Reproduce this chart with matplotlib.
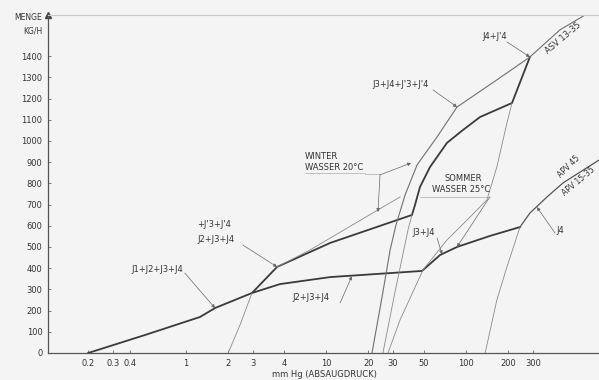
import matplotlib
matplotlib.use('Agg')
import matplotlib.pyplot as plt

# ---- data: x = suction pressure (mm Hg abs), y = throughput (kg/h) ----
winter_x = [0.2, 0.51, 1.26, 1.61, 2.96, 4.47, 10.7, 41.1, 43.2, 46.9, 55.3, 73.1, 95.2, 126, 213, 286]
winter_y = [0, 85, 170, 212, 283, 406, 519, 651, 698, 783, 877, 991, 1052, 1113, 1179, 1396]
summer_x = [2.96, 4.69, 10.7, 48.5, 65.2, 86.2, 148, 243]
summer_y = [283, 325, 358, 387, 462, 500, 552, 594]
apv_x = [243, 286, 379, 493, 891]
apv_y = [594, 660, 736, 802, 910]
asv_x = [21.3, 25.5, 28.7, 31.6, 36.7, 44.7, 62.1, 86.2, 166, 286, 469, 769]
asv_y = [0, 288, 486, 604, 745, 887, 1019, 1160, 1288, 1396, 1524, 1608]
j3j4_x = [25.5, 31.1, 38.5, 41.1]
j3j4_y = [0, 288, 580, 651]
summer_water_x = [27.7, 33.8, 49.3, 73.1, 101.6, 141, 166, 196, 213]
summer_water_y = [0, 156, 392, 533, 627, 722, 877, 1085, 1179]
j4_x = [137, 166, 196, 243]
j4_y = [0, 250, 406, 594]
j2_x = [2.0, 2.43, 2.96]
j2_y = [0, 132, 283]
winter_water_x = [4.47, 5.1, 7.69, 17.5, 33.8]
winter_water_y = [406, 425, 486, 625, 736]

x_tick_values = [0.2, 0.3, 0.4, 1, 2, 3, 5, 10, 20, 30, 50, 100, 200, 300]
x_tick_labels = ["0.2", "0.3", "0.4", "1", "2", "3", "4", "10", "20", "30", "50", "100", "200", "300"]
y_tick_values = list(range(0, 1500, 100))
y_tick_labels = [str(v) for v in y_tick_values]

# label text, anchor x, anchor y, rotation, ha, fontsize
labels = [
    ("J1+J2+J3+J4", 0.62, 392, 0, "center", 6),
    ("+J'3+J'4", 1.2, 604, 0, "left", 6),
    ("J2+J3+J4", 1.2, 533, 0, "left", 6),
    ("J2+J3+J4", 5.72, 264, 0, "left", 6),
    ("WINTER", 7.08, 925, 0, "left", 6),
    ("WASSER 20°C", 7.08, 873, 0, "left", 6),
    ("SOMMER", 95.2, 821, 0, "center", 6),
    ("WASSER 25°C", 93, 769, 0, "center", 6),
    ("J3+J4", 41.1, 566, 0, "left", 6),
    ("J3+J4+J'3+J'4", 33.8, 1264, 0, "center", 6),
    ("J4+J'4", 161, 1491, 0, "center", 6),
    ("ASV 13-35", 493, 1486, 40, "center", 6),
    ("APV 45", 540, 880, 45, "center", 5.5),
    ("APV 15-35", 640, 808, 40, "center", 5.5),
    ("J4", 469, 580, 0, "center", 6),
]
# leader lines: (from x, from y, to x, to y)
leaders = [
    (0.98, 377, 1.61, 212),
    (2.55, 509, 4.47, 406),
    (12.6, 236, 15.3, 362),
    (24.3, 840, 40.5, 896),
    (24.3, 840, 23.5, 665),
    (148, 736, 86.2, 500),
    (62.1, 542, 67.4, 466),
    (58.1, 1241, 86.2, 1160),
    (196, 1467, 286, 1396),
    (432, 566, 321, 688),
]
underlines = [
    (7.08, 19.0, 849),
    (19.0, 24.3, 845),
    (46.9, 148, 736),
]

fig = plt.figure(figsize=(5.99, 3.80), dpi=100)
bg = '#f4f4f4'
fig.patch.set_facecolor(bg)
ax = fig.add_axes([48/599, 1-353/380, 551/599, 338/380])
ax.set_facecolor(bg)
ax.set_xscale('log')
ax.set_xlim(0.1033, 891)
ax.set_ylim(0, 1594)

thick = dict(color='#3a3a3a', lw=1.3, solid_joinstyle='miter')
thin = dict(color='#8a8a8a', lw=0.6)
ax.plot(winter_x, winter_y, **thick)
ax.plot(summer_x, summer_y, **thick)
ax.plot(apv_x, apv_y, color='#555555', lw=0.9)
ax.plot(asv_x, asv_y, color='#707070', lw=0.8)
ax.plot(j3j4_x, j3j4_y, **thin)
ax.plot(summer_water_x, summer_water_y, **thin)
ax.plot(j4_x, j4_y, **thin)
ax.plot(j2_x, j2_y, **thin)
ax.plot(winter_water_x, winter_water_y, **thin)

for txt, x, y, rot, ha, fs in labels:
    ax.text(x, y, txt, rotation=rot, ha=ha, va='center', rotation_mode='anchor',
            fontsize=fs, color='#333333', family='DejaVu Sans')
for x0, y0, x1, y1 in leaders:
    ax.annotate('', xy=(x1, y1), xytext=(x0, y0),
                arrowprops=dict(arrowstyle='-|>', lw=0.5, color='#666666', mutation_scale=5,
                                shrinkA=0, shrinkB=0))
for xa, xb, y in underlines:
    ax.plot([xa, xb], [y, y], color='#999999', lw=0.4)

ax.xaxis.set_major_locator(plt.FixedLocator(x_tick_values))
ax.xaxis.set_major_formatter(plt.FixedFormatter(x_tick_labels))
ax.xaxis.set_minor_locator(plt.NullLocator())
ax.set_yticks(y_tick_values)
ax.set_yticklabels(y_tick_labels)
ax.tick_params(axis='both', labelsize=6, labelcolor='#333333', length=2, width=0.6,
               color='#666666', direction='in', pad=4)

ax.spines['right'].set_visible(False)
ax.spines['top'].set_color('#cccccc')
ax.spines['top'].set_linewidth(0.8)
ax.spines['left'].set_color('#555555')
ax.spines['bottom'].set_color('#555555')
ax.spines['left'].set_linewidth(0.9)
ax.spines['bottom'].set_linewidth(0.9)

ax.plot([0], [1], marker='^', markersize=4, color='#444444', transform=ax.transAxes, clip_on=False)

fig.text(42/599, 1-17/380, 'MENGE', ha='right', va='center', fontsize=5.5, color='#333333')
fig.text(42/599, 1-31/380, 'KG/H', ha='right', va='center', fontsize=5.5, color='#333333')
fig.text(324/599, 1-370/380, 'mm Hg (ABSAUGDRUCK)', ha='center', va='top', fontsize=6, color='#333333')

fig.savefig('out.png', dpi=100, facecolor=bg)
